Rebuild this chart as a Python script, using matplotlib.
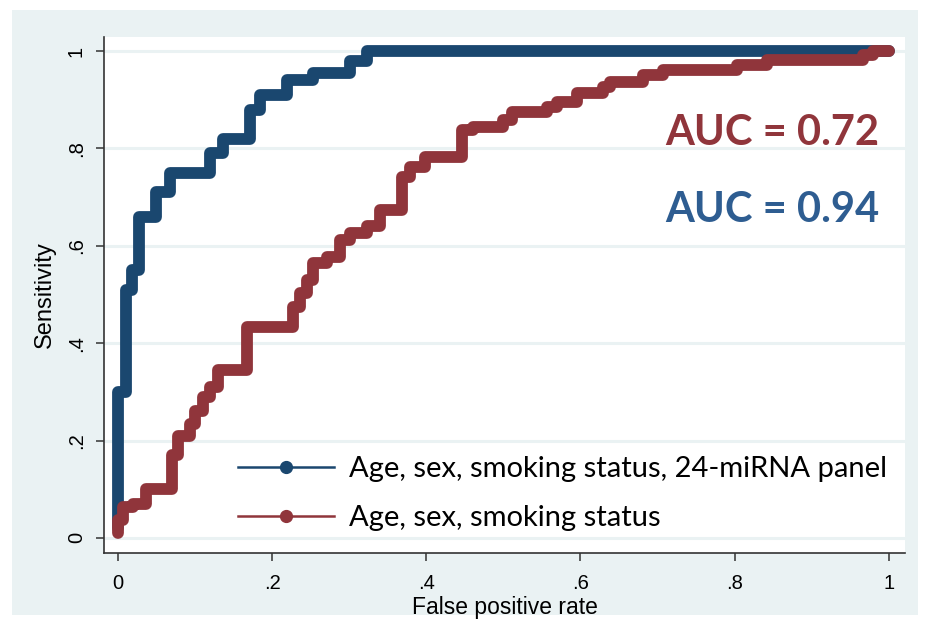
import matplotlib
matplotlib.use("Agg")
import matplotlib.pyplot as plt
from matplotlib.patches import Rectangle

# ROC corner points, drawn as post-steps
blue_fpr = [0, 0, 0.01, 0.018, 0.028, 0.05, 0.067, 0.119, 0.136, 0.171,
            0.184, 0.219, 0.253, 0.301, 0.323, 1.0]
blue_tpr = [0.02, 0.30, 0.51, 0.55, 0.66, 0.71, 0.75, 0.79, 0.82, 0.88,
            0.91, 0.94, 0.955, 0.98, 1.0, 1.0]

red_fpr = [0, 0, 0.007, 0.02, 0.037, 0.07, 0.078, 0.093, 0.10, 0.11,
           0.12, 0.13, 0.167, 0.227, 0.236, 0.245, 0.253, 0.271, 0.288, 0.301,
           0.323, 0.34, 0.368, 0.379, 0.398, 0.447, 0.46, 0.5, 0.511, 0.556,
           0.569, 0.595, 0.629, 0.638, 0.681, 0.707, 0.803, 0.842, 0.966, 0.979,
           1.0]
red_tpr = [0.01, 0.037, 0.064, 0.07, 0.10, 0.17, 0.21, 0.235, 0.26, 0.29,
           0.31, 0.345, 0.433, 0.474, 0.503, 0.53, 0.565, 0.577, 0.612, 0.626,
           0.64, 0.673, 0.741, 0.762, 0.782, 0.838, 0.844, 0.858, 0.875, 0.885,
           0.895, 0.914, 0.926, 0.936, 0.95, 0.961, 0.971, 0.981, 0.992, 1.0,
           1.0]

labels = ["Age, sex, smoking status, 24-miRNA panel", "Age, sex, smoking status"]
auc_text = ["AUC = 0.72", "AUC = 0.94"]
ticks = [0, 0.2, 0.4, 0.6, 0.8, 1]
tick_labels = ["0", ".2", ".4", ".6", ".8", "1"]

navy = "#1a476f"
maroon = "#90353b"
bg = "#eaf2f3"

plt.rcParams['font.family'] = ['Liberation Sans', 'DejaVu Sans']

fig = plt.figure(figsize=(9.27, 6.19), dpi=100)
fig.patch.set_facecolor("white")
# stata-like outer panel
fig.patches.append(Rectangle((12 / 927, 4 / 619), 906 / 927, 605 / 619,
                             transform=fig.transFigure, facecolor=bg,
                             edgecolor="none", zorder=-5))

ax = fig.add_axes([104 / 927, 1 - 553 / 619, 801 / 927, 516 / 619])
ax.set_facecolor("white")

for s in ["top", "right"]:
    ax.spines[s].set_visible(False)
for s in ["left", "bottom"]:
    ax.spines[s].set_color("#333333")
    ax.spines[s].set_linewidth(1.2)

ax.set_xlim(-0.018, 1.021)
ax.set_ylim(-0.031, 1.029)

ax.yaxis.grid(True, color=bg, linewidth=2.2, zorder=0)
ax.set_axisbelow(True)

ax.set_xticks(ticks)
ax.set_xticklabels(tick_labels, fontsize=14.5)
ax.set_yticks(ticks)
ax.set_yticklabels(tick_labels, fontsize=14.5, rotation=90, va="center")
ax.tick_params(direction="out", length=6, width=1.1, color="#333333")
ax.tick_params(axis="x", pad=9)
ax.tick_params(axis="y", pad=7)

ax.set_xlabel("False positive rate", fontsize=16.5, labelpad=2)
ax.set_ylabel("Sensitivity", fontsize=17, labelpad=8)

ax.step(blue_fpr, blue_tpr, where="post", color=navy, lw=8.5,
        solid_joinstyle="round", solid_capstyle="round", zorder=3)
ax.step(red_fpr, red_tpr, where="post", color=maroon, lw=8.5,
        solid_joinstyle="round", solid_capstyle="round", zorder=4)

# legend handles
h1, = ax.plot([], [], color=navy, lw=1.8, marker="o", ms=8.5)
h2, = ax.plot([], [], color=maroon, lw=1.8, marker="o", ms=8.5)
ax.legend([h1, h2], labels, loc="center left", bbox_to_anchor=(0.167, 0.115),
          frameon=False, prop={"family": "Lato", "size": 21},
          handlelength=3.3, handletextpad=0.5, labelspacing=0.8,
          borderpad=0, borderaxespad=0)

ax.text(0.988, 0.832, auc_text[0], color=maroon, fontsize=30,
        fontweight="bold", family="Lato", ha="right", va="center")
ax.text(0.988, 0.673, auc_text[1], color="#2e5d91", fontsize=30,
        fontweight="bold", family="Lato", ha="right", va="center")

fig.savefig("out.png", dpi=100, facecolor=fig.get_facecolor())
